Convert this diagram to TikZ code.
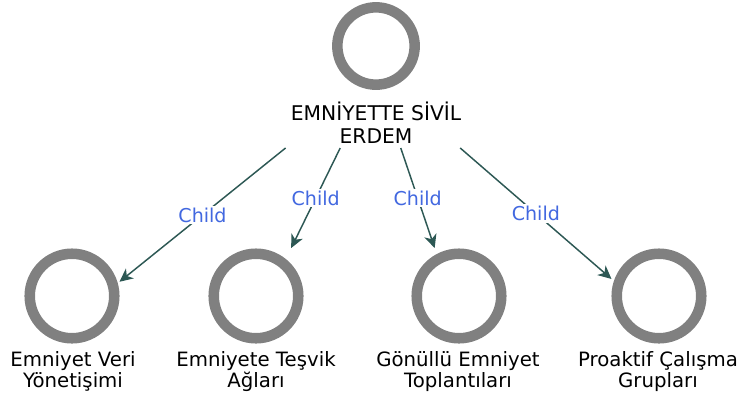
\documentclass[tikz,border=0pt]{standalone}
\usepackage{fontspec}
\setmainfont{DejaVu Sans}
\usetikzlibrary{arrows.meta}
\definecolor{ringgray}{RGB}{128,128,128}
\definecolor{edgeteal}{RGB}{45,88,84}
\definecolor{childblue}{RGB}{66,104,224}
\tikzset{
  x=0.75pt, y=-0.75pt,
  ring/.style={circle, draw=ringgray, line width=7.9pt, inner sep=0pt, outer sep=0pt},
  bigring/.style={ring, minimum size=63.4pt},
  topring/.style={ring, minimum size=58pt},
  hitbox/.style={rectangle, draw=none, inner sep=0pt, outer sep=0pt},
  rootbox/.style={hitbox, minimum width=140.25pt, minimum height=109.5pt},
  childbox/.style={hitbox, minimum width=71.25pt, minimum height=108pt},
  caption/.style={align=center, anchor=base, inner sep=0pt,
    font=\fontsize{14.8pt}{15.75pt}\selectfont},
  rootcaption/.style={caption, font=\fontsize{15.2pt}{17.25pt}\selectfont},
  edge/.style={draw=edgeteal, line width=1.1pt,
    -{Stealth[length=10pt, width=9.5pt, inset=3pt]}},
  lbl/.style={fill=white, text=childblue, inner sep=1.5pt,
    font=\fontsize{14.3pt}{16pt}\selectfont}
}
\begin{document}
\begin{tikzpicture}
\useasboundingbox (0,0) rectangle (740,400);

% root node: ring and caption (anchored at the last baseline), with the box that edges leave from
\node[topring] (rootring) at (376,46) {};
\node[rootcaption] (roottext) at (376,143) {EMNİYETTE SİVİL\\ERDEM};
\node[rootbox] (root) at (376,75) {};

% child nodes
\node[bigring] (r1) at (72,296) {};
\node[caption] (t1) at (73,387) {Emniyet Veri\\Yönetişimi};
\node[childbox] (c1) at (72,320) {};

\node[bigring] (r2) at (256,296) {};
\node[caption] (t2) at (256,387) {Emniyete Teşvik\\Ağları};
\node[childbox] (c2) at (256,320) {};

\node[bigring] (r3) at (459,296) {};
\node[caption] (t3) at (458,387) {Gönüllü Emniyet\\Toplantıları};
\node[childbox] (c3) at (459,320) {};

\node[bigring] (r4) at (659,296) {};
\node[caption] (t4) at (658,387) {Proaktif Çalışma\\Grupları};
\node[childbox] (c4) at (659,320) {};

% parent-to-child edges
\draw[edge] (root) -- node[lbl] {Child} (c1);
\draw[edge] (root) -- node[lbl] {Child} (c2);
\draw[edge] (root) -- node[lbl] {Child} (c3);
\draw[edge] (root) -- node[lbl] {Child} (c4);
\end{tikzpicture}
\end{document}
